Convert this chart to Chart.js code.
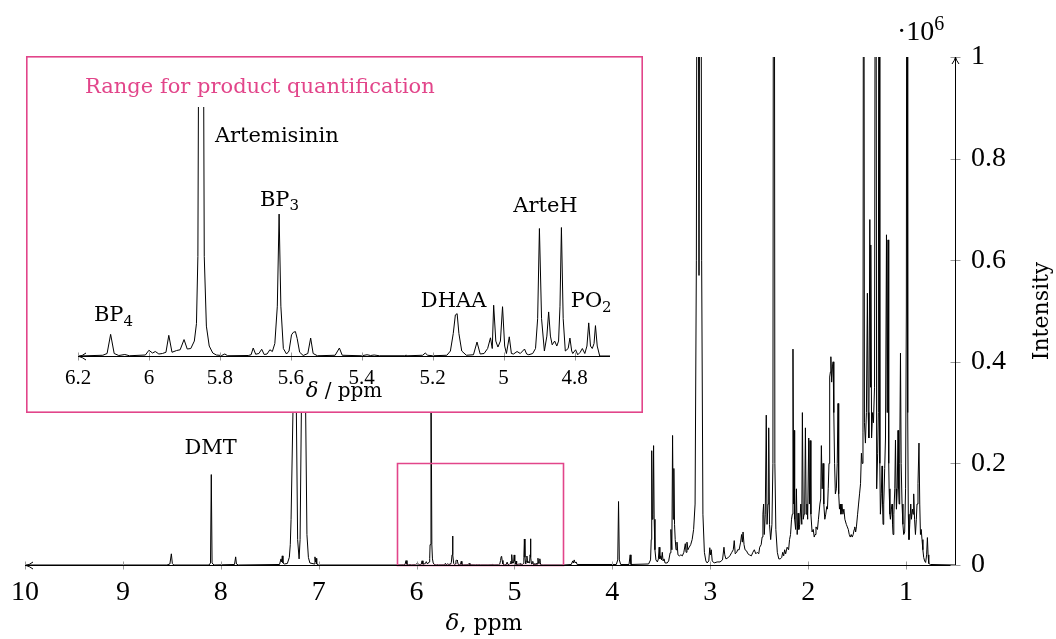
<!DOCTYPE html>
<html>
<head>
<meta charset="utf-8">
<title>1H NMR spectrum</title>
<script src="https://cdn.jsdelivr.net/npm/chart.js@4.4.1/dist/chart.umd.min.js"></script>
<style>
  html, body { margin: 0; padding: 0; background: #fff; }
  #wrap { position: relative; width: 1056px; height: 639px; }
  #mainChart { position: absolute; left: 0; top: 0; }
  #insetChart { position: absolute; left: 26px; top: 56px; background: #fff; }
</style>
</head>
<body>
<div id="wrap">
  <canvas id="mainChart" width="1056" height="639"></canvas>
  <canvas id="insetChart" width="617" height="357"></canvas>
</div>
<script>
// spectrum points [ppm, intensity / 10^6]
const aromaticRegion = [
  [10, 0], [8.55, 0], [8.52, 0.002], [8.505, 0.022], [8.495, 0.003], [8.48, 0],
  [8.12, 0], [8.105, 0.004], [8.097, 0.178], [8.089, 0.004], [8.07, 0],
  [7.86, 0.001], [7.848, 0.016], [7.84, 0.002], [7.82, 0],
  [7.40, 0.001], [7.385, 0.012], [7.378, 0.006], [7.372, 0.018], [7.365, 0.004], [7.35, 0.002],
  [7.32, 0.003], [7.30, 0.015], [7.29, 0.04], [7.282, 0.09], [7.263, 0.3], [7.245, 1.4], [7.228, 0.3],
  [7.215, 0.05], [7.20, 0.012], [7.19, 0.05], [7.177, 0.3], [7.155, 1.3], [7.133, 0.3], [7.12, 0.06],
  [7.105, 0.015], [7.09, 0.004],
  [7.045, 0.002], [7.038, 0.016], [7.032, 0.006], [7.027, 0.013], [7.02, 0.002], [7.0, 0],
  [6.2, 0]
];

const productRegion = [
  [6.2, 0], [6.13, 0.0003], [6.118, 0.001], [6.108, 0.0087], [6.098, 0.001], [6.085, 0.0002],
  [6.068, 0.0006], [6.055, 0.0001],
  [6.01, 0.0004], [6.0, 0.0023], [5.99, 0.0012], [5.982, 0.0018], [5.972, 0.0008], [5.962, 0.001],
  [5.952, 0.0015], [5.944, 0.0083], [5.935, 0.0015], [5.922, 0.0022], [5.912, 0.0025], [5.901, 0.0066],
  [5.892, 0.0028], [5.882, 0.003], [5.872, 0.006], [5.866, 0.013], [5.862, 0.04], [5.853, 0.4],
  [5.844, 0.04], [5.838, 0.012], [5.83, 0.004], [5.82, 0.0012], [5.81, 0.0004], [5.795, 0.0002],
  [5.786, 0.0008], [5.778, 0.0001],
  [5.72, 0.0002], [5.712, 0.0005], [5.706, 0.0032], [5.699, 0.0007], [5.69, 0.001], [5.682, 0.0027],
  [5.675, 0.0006], [5.667, 0.0008], [5.659, 0.0025], [5.652, 0.0018], [5.645, 0.005], [5.638, 0.02],
  [5.633, 0.057], [5.628, 0.02], [5.621, 0.003], [5.612, 0.0008], [5.605, 0.002], [5.598, 0.0085],
  [5.593, 0.0095], [5.587, 0.0098], [5.582, 0.007], [5.575, 0.0015], [5.565, 0.0002], [5.552, 0.001],
  [5.544, 0.0072], [5.537, 0.001], [5.525, 0.0001],
  [5.475, 0.0003], [5.463, 0.0032], [5.455, 0.0003], [5.4, 0.0001], [5.385, 0.0005], [5.375, 0.0002],
  [5.365, 0.0004], [5.35, 0.0001], [5.28, 0.0001], [5.275, 0.0003], [5.27, 0.0001], [5.228, 0.0003],
  [5.221, 0.0012], [5.214, 0.0003], [5.2, 0.0001],
  [5.16, 0.0003], [5.15, 0.002], [5.142, 0.009], [5.136, 0.0165], [5.131, 0.017], [5.126, 0.009],
  [5.118, 0.002], [5.105, 0.0003],
  [5.085, 0.0005], [5.075, 0.0056], [5.066, 0.0008], [5.055, 0.001], [5.045, 0.003], [5.037, 0.0073],
  [5.032, 0.003], [5.028, 0.0204], [5.022, 0.006], [5.016, 0.0036], [5.009, 0.006], [5.003, 0.0198],
  [4.997, 0.004], [4.992, 0.001], [4.984, 0.0077], [4.978, 0.001], [4.972, 0.0008], [4.962, 0.0018],
  [4.953, 0.001], [4.941, 0.0028], [4.935, 0.0008], [4.929, 0.0005], [4.918, 0.001], [4.91, 0.003],
  [4.904, 0.015], [4.899, 0.0512], [4.893, 0.015], [4.885, 0.002], [4.878, 0.008], [4.873, 0.0177],
  [4.868, 0.008], [4.863, 0.0045], [4.856, 0.006], [4.85, 0.004], [4.845, 0.006], [4.841, 0.02],
  [4.837, 0.0516], [4.832, 0.015], [4.826, 0.002], [4.818, 0.003], [4.813, 0.0072], [4.808, 0.002],
  [4.805, 0.001], [4.797, 0.0025], [4.791, 0.0005], [4.784, 0.0015], [4.778, 0.003], [4.771, 0.001],
  [4.765, 0.004], [4.76, 0.0133], [4.755, 0.004], [4.75, 0.003], [4.745, 0.005], [4.741, 0.0122],
  [4.736, 0.004], [4.729, 0], [4.70, 0], [4.5, 0]
];

const aliphaticRegion = [
  [4.5, 0], [4.42, 0.001], [4.405, 0.008], [4.398, 0.004], [4.39, 0.01], [4.38, 0.004], [4.37, 0.006],
  [4.36, 0.001], [4.3, 0.001],
  [3.96, 0.001], [3.945, 0.01], [3.937, 0.125], [3.929, 0.01], [3.915, 0.001],
  [3.83, 0.001], [3.818, 0.02], [3.81, 0.001],
  [3.63, 0.002], [3.61, 0.01], [3.603, 0.05], [3.598, 0.225], [3.592, 0.09], [3.585, 0.1], [3.579, 0.235],
  [3.573, 0.09], [3.565, 0.03], [3.555, 0.01], [3.54, 0.006],
  [3.53, 0.012], [3.522, 0.035], [3.515, 0.012], [3.505, 0.018], [3.498, 0.01], [3.49, 0.025],
  [3.482, 0.008], [3.472, 0.012], [3.462, 0.004], [3.44, 0.004],
  [3.425, 0.008], [3.41, 0.024], [3.402, 0.07], [3.392, 0.03], [3.385, 0.255], [3.378, 0.09],
  [3.372, 0.19], [3.365, 0.08], [3.358, 0.05], [3.35, 0.03], [3.34, 0.045], [3.33, 0.02], [3.315, 0.018],
  [3.30, 0.02], [3.285, 0.018], [3.27, 0.025], [3.255, 0.042], [3.247, 0.025], [3.238, 0.045],
  [3.228, 0.03], [3.215, 0.035], [3.20, 0.04], [3.185, 0.05], [3.17, 0.07], [3.155, 0.12], [3.142, 0.6],
  [3.13, 2.0], [3.115, 0.57], [3.10, 2.0], [3.088, 0.6], [3.075, 0.1], [3.06, 0.025], [3.045, 0.008],
  [3.032, 0.004], [3.015, 0.008], [3.005, 0.034], [2.998, 0.02], [2.99, 0.03], [2.98, 0.008],
  [2.96, 0.004], [2.93, 0.006], [2.9, 0.006],
  [2.875, 0.01], [2.86, 0.035], [2.852, 0.02], [2.84, 0.012], [2.82, 0.014], [2.80, 0.018], [2.78, 0.025],
  [2.765, 0.03], [2.755, 0.048], [2.745, 0.022], [2.73, 0.025], [2.72, 0.03], [2.705, 0.03], [2.69, 0.045],
  [2.68, 0.06], [2.672, 0.045], [2.665, 0.065], [2.655, 0.04], [2.645, 0.03], [2.63, 0.028], [2.615, 0.022],
  [2.60, 0.02], [2.58, 0.018], [2.565, 0.025], [2.55, 0.03], [2.535, 0.022], [2.52, 0.025], [2.505, 0.022],
  [2.495, 0.035], [2.48, 0.04], [2.47, 0.055], [2.462, 0.1], [2.455, 0.12], [2.448, 0.06], [2.438, 0.1],
  [2.428, 0.295], [2.42, 0.08], [2.41, 0.12], [2.403, 0.27], [2.395, 0.08], [2.383, 0.05], [2.37, 0.08],
  [2.36, 0.2], [2.35, 2.5], [2.34, 0.2], [2.33, 0.07], [2.315, 0.025], [2.30, 0.012], [2.285, 0.012],
  [2.27, 0.015], [2.26, 0.025], [2.25, 0.018], [2.24, 0.03], [2.23, 0.022], [2.215, 0.035], [2.2, 0.03],
  [2.19, 0.05], [2.18, 0.06], [2.17, 0.09], [2.162, 0.1], [2.155, 0.425], [2.148, 0.12], [2.144, 0.265],
  [2.138, 0.09], [2.128, 0.07], [2.12, 0.15], [2.112, 0.06], [2.103, 0.102], [2.095, 0.07], [2.086, 0.08],
  [2.075, 0.12], [2.065, 0.08], [2.059, 0.3], [2.05, 0.09], [2.042, 0.1], [2.035, 0.12], [2.028, 0.27],
  [2.02, 0.1], [2.012, 0.12], [2.005, 0.09], [1.994, 0.25], [1.987, 0.12], [1.98, 0.245], [1.972, 0.1],
  [1.96, 0.065], [1.948, 0.07], [1.938, 0.055], [1.93, 0.06], [1.92, 0.075], [1.905, 0.07], [1.895, 0.09],
  [1.88, 0.12], [1.872, 0.13], [1.865, 0.235], [1.857, 0.15], [1.848, 0.2], [1.84, 0.12], [1.83, 0.09],
  [1.82, 0.1], [1.81, 0.115], [1.803, 0.11], [1.795, 0.15], [1.787, 0.2], [1.78, 0.37], [1.773, 0.38],
  [1.768, 0.41], [1.76, 0.36], [1.752, 0.39], [1.745, 0.40], [1.738, 0.3], [1.73, 0.2], [1.722, 0.14],
  [1.712, 0.15], [1.703, 0.2], [1.695, 0.318], [1.688, 0.14], [1.68, 0.11], [1.672, 0.12], [1.665, 0.1],
  [1.655, 0.12], [1.645, 0.1], [1.635, 0.11], [1.625, 0.09], [1.61, 0.08], [1.60, 0.075], [1.59, 0.07],
  [1.58, 0.06], [1.57, 0.055], [1.56, 0.06], [1.55, 0.055], [1.54, 0.06], [1.53, 0.07], [1.524, 0.075],
  [1.515, 0.065], [1.507, 0.075], [1.495, 0.1], [1.485, 0.12], [1.475, 0.14], [1.465, 0.16], [1.456, 0.22],
  [1.448, 0.2], [1.44, 0.26], [1.433, 2.0], [1.425, 0.28], [1.415, 0.24], [1.405, 0.3], [1.395, 0.535],
  [1.387, 0.3], [1.38, 0.25], [1.37, 0.68], [1.363, 0.35], [1.36, 0.63], [1.352, 0.25], [1.342, 0.3],
  [1.333, 0.28], [1.322, 0.35], [1.31, 2.0], [1.30, 0.15], [1.29, 0.22], [1.283, 0.3], [1.276, 2.0],
  [1.268, 0.2], [1.262, 0.1], [1.253, 0.14], [1.245, 0.195], [1.24, 0.12], [1.235, 0.08], [1.228, 0.12],
  [1.218, 0.19], [1.21, 0.25], [1.2, 0.65], [1.192, 0.3], [1.184, 0.64], [1.177, 0.2], [1.173, 0.15],
  [1.165, 0.1], [1.16, 0.09], [1.15, 0.11], [1.143, 0.12], [1.138, 0.08], [1.133, 0.06], [1.125, 0.1],
  [1.115, 0.15], [1.108, 0.246], [1.102, 0.15], [1.098, 0.11], [1.09, 0.15], [1.082, 0.265], [1.076, 0.15],
  [1.071, 0.12], [1.065, 0.2], [1.057, 0.417], [1.05, 0.2], [1.041, 0.12], [1.032, 0.08], [1.024, 0.06],
  [1.014, 0.065], [1.005, 0.15], [0.997, 0.5], [0.99, 2.0], [0.983, 0.3], [0.977, 0.1], [0.97, 0.05],
  [0.962, 0.08], [0.952, 0.12], [0.945, 0.09], [0.935, 0.11], [0.928, 0.1], [0.922, 0.14], [0.913, 0.09],
  [0.904, 0.06], [0.895, 0.09], [0.888, 0.12], [0.878, 0.16], [0.868, 0.24], [0.86, 0.12], [0.853, 0.06],
  [0.845, 0.07], [0.837, 0.05], [0.828, 0.03], [0.82, 0.015], [0.81, 0.008], [0.8, 0.005], [0.79, 0.02],
  [0.782, 0.054], [0.775, 0.02], [0.768, 0.003], [0.75, 0.001], [0.5, 0]
];

const mainXTicks = [10, 9, 8, 7, 6, 5, 4, 3, 2, 1];
const mainYTicks = [0, 0.2, 0.4, 0.6, 0.8, 1];
const insetXTicks = [6.2, 6, 5.8, 5.6, 5.4, 5.2, 5, 4.8];

// region of the main plot that is blown up in the inset
const zoomWindowPpm = [6.2, 4.5];
const zoomWindowIntensity = 0.2;

const PINK = '#e2458a';
const TICK_GREY = '#9a9a9a';
const SERIF = '"DejaVu Serif", serif';
const NUM_FONT = '"Liberation Serif", serif';

const spectrum = aromaticRegion.concat(productRegion, aliphaticRegion)
  .map(p => ({ x: p[0], y: p[1] }));

Chart.defaults.font.family = SERIF;
Chart.defaults.color = '#000';

// text with a lowered index, e.g. BP4
function drawIndexed(ctx, base, sub, x, y, size, align) {
  ctx.font = size + 'px ' + SERIF;
  const w1 = ctx.measureText(base).width;
  const subSize = Math.round(size * 0.72);
  ctx.font = subSize + 'px ' + SERIF;
  const w2 = ctx.measureText(sub).width;
  const x0 = align === 'center' ? x - (w1 + w2) / 2 : x;
  ctx.textAlign = 'left';
  ctx.textBaseline = 'alphabetic';
  ctx.font = size + 'px ' + SERIF;
  ctx.fillText(base, x0, y);
  ctx.font = subSize + 'px ' + SERIF;
  ctx.fillText(sub, x0 + w1, y + size * 0.22);
}

function drawAxisX(ctx, scale, area, arrowAtLeft) {
  const yb = Math.round(area.bottom) + 0.5;
  ctx.strokeStyle = TICK_GREY;
  ctx.lineWidth = 1;
  scale.ticks.forEach(t => {
    const px = Math.round(scale.getPixelForValue(t.value)) + 0.5;
    ctx.beginPath();
    ctx.moveTo(px, yb - 4);
    ctx.lineTo(px, yb + 4);
    ctx.stroke();
  });
  ctx.strokeStyle = '#000';
  ctx.beginPath();
  ctx.moveTo(area.left, yb);
  ctx.lineTo(area.right, yb);
  ctx.stroke();
  if (arrowAtLeft) {
    const tip = area.left + 1;
    ctx.beginPath();
    ctx.moveTo(tip + 7, yb - 3.5);
    ctx.quadraticCurveTo(tip + 3, yb - 0.5, tip, yb);
    ctx.quadraticCurveTo(tip + 3, yb + 0.5, tip + 7, yb + 3.5);
    ctx.stroke();
  }
}

const mainDecor = {
  id: 'mainDecor',
  afterDraw(chart) {
    const { ctx, chartArea: a, scales: { x, y } } = chart;
    ctx.save();

    // zoom window
    const x1 = Math.round(x.getPixelForValue(zoomWindowPpm[0])) + 0.5;
    const x2 = Math.round(x.getPixelForValue(zoomWindowPpm[1])) + 0.5;
    const y1 = Math.round(y.getPixelForValue(zoomWindowIntensity)) + 0.5;
    const y0 = Math.round(y.getPixelForValue(0)) + 0.5;
    ctx.strokeStyle = PINK;
    ctx.lineWidth = 1.6;
    ctx.beginPath();
    ctx.rect(x1, y1, x2 - x1, y0 - y1);
    ctx.stroke();
    ctx.lineWidth = 1;

    drawAxisX(ctx, x, a, true);

    // right-hand intensity axis with arrow on top
    const xr = Math.round(a.right) + 0.5;
    ctx.strokeStyle = TICK_GREY;
    y.ticks.forEach(t => {
      const py = Math.round(y.getPixelForValue(t.value)) + 0.5;
      ctx.beginPath();
      ctx.moveTo(xr - 5, py);
      ctx.lineTo(xr + 5, py);
      ctx.stroke();
    });
    ctx.strokeStyle = '#000';
    ctx.beginPath();
    ctx.moveTo(xr, a.bottom);
    ctx.lineTo(xr, a.top);
    ctx.stroke();
    ctx.beginPath();
    ctx.moveTo(xr - 3.5, a.top + 7);
    ctx.quadraticCurveTo(xr - 0.5, a.top + 3, xr, a.top);
    ctx.quadraticCurveTo(xr + 0.5, a.top + 3, xr + 3.5, a.top + 7);
    ctx.stroke();

    ctx.fillStyle = '#000';
    // multiplier
    ctx.textBaseline = 'alphabetic';
    ctx.textAlign = 'left';
    ctx.font = '28px ' + NUM_FONT;
    ctx.fillText('·10', a.right - 58, a.top - 17);
    const w = ctx.measureText('·10').width;
    ctx.font = '20px ' + NUM_FONT;
    ctx.fillText('6', a.right - 58 + w, a.top - 27);

    // axis titles
    ctx.save();
    ctx.translate(a.right + 87, (a.top + a.bottom) / 2);
    ctx.rotate(-Math.PI / 2);
    ctx.textAlign = 'center';
    ctx.textBaseline = 'middle';
    ctx.font = '22px ' + SERIF;
    ctx.fillText('Intensity', 0, 0);
    ctx.restore();

    ctx.font = 'italic 23px ' + SERIF;
    const dW = ctx.measureText('δ').width;
    ctx.font = '22px ' + SERIF;
    const rW = ctx.measureText(', ppm').width;
    const cx = (a.left + a.right) / 2 - 6;
    const xs = cx - (dW + rW) / 2;
    ctx.textAlign = 'left';
    ctx.font = 'italic 23px ' + SERIF;
    ctx.fillText('δ', xs, a.bottom + 65);
    ctx.font = '22px ' + SERIF;
    ctx.fillText(', ppm', xs + dW, a.bottom + 65);

    // peak label
    ctx.textAlign = 'center';
    ctx.font = '21px ' + SERIF;
    ctx.fillText('DMT', x.getPixelForValue(8.104), y.getPixelForValue(0.2185));
    ctx.restore();
  }
};

new Chart(document.getElementById('mainChart'), {
  type: 'line',
  data: {
    datasets: [{
      data: spectrum,
      borderColor: '#000',
      borderWidth: 1,
      pointRadius: 0,
      tension: 0,
      fill: false
    }]
  },
  options: {
    responsive: false,
    animation: false,
    layout: { padding: { left: 25, top: 57, right: 0, bottom: 0 } },
    plugins: { legend: { display: false }, tooltip: { enabled: false } },
    scales: {
      x: {
        type: 'linear',
        reverse: true,
        min: 0.5,
        max: 10,
        afterBuildTicks: s => { s.ticks = mainXTicks.map(v => ({ value: v })); },
        afterFit: s => { s.height = 74; },
        grid: { display: false, drawTicks: false },
        border: { display: false },
        ticks: {
          autoSkip: false,
          maxRotation: 0,
          padding: 11,
          color: '#000',
          font: { family: NUM_FONT, size: 28 },
          callback: v => String(v)
        }
      },
      y: {
        position: 'right',
        min: 0,
        max: 1,
        afterBuildTicks: s => { s.ticks = mainYTicks.map(v => ({ value: v })); },
        afterFit: s => { s.width = 101; },
        grid: { display: false, drawTicks: false },
        border: { display: false },
        ticks: {
          padding: 16,
          color: '#000',
          font: { family: NUM_FONT, size: 28 },
          callback: v => String(v)
        }
      }
    }
  },
  plugins: [mainDecor]
});

// inset: zoom on the product quantification window
const insetPeakLabels = [
  { base: 'Artemisinin', sub: '', ppm: 5.814, intensity: 0.086, align: 'left' },
  { base: 'BP', sub: '3', ppm: 5.632, intensity: 0.0603, align: 'center' },
  { base: 'BP', sub: '4', ppm: 6.10, intensity: 0.014, align: 'center' },
  { base: 'DHAA', sub: '', ppm: 5.141, intensity: 0.0197, align: 'center' },
  { base: 'ArteH', sub: '', ppm: 4.882, intensity: 0.0579, align: 'center' },
  { base: 'PO', sub: '2', ppm: 4.753, intensity: 0.0197, align: 'center' }
];

const insetDecor = {
  id: 'insetDecor',
  afterDraw(chart) {
    const { ctx, chartArea: a, scales: { x, y }, width, height } = chart;
    ctx.save();
    ctx.strokeStyle = PINK;
    ctx.lineWidth = 1.6;
    ctx.strokeRect(0.8, 0.8, width - 1.6, height - 1.6);
    ctx.lineWidth = 1;

    drawAxisX(ctx, x, a, true);

    ctx.fillStyle = PINK;
    ctx.textAlign = 'left';
    ctx.textBaseline = 'alphabetic';
    ctx.font = '21px ' + SERIF;
    ctx.fillText('Range for product quantification', 59, 37);

    ctx.fillStyle = '#000';
    insetPeakLabels.forEach(l => {
      drawIndexed(ctx, l.base, l.sub, x.getPixelForValue(l.ppm), y.getPixelForValue(l.intensity), 21, l.align);
    });

    ctx.font = 'italic 21px ' + SERIF;
    const dW = ctx.measureText('δ').width;
    ctx.font = '20px ' + SERIF;
    const rW = ctx.measureText(' / ppm').width;
    const xs = (a.left + a.right) / 2 - (dW + rW) / 2;
    ctx.font = 'italic 21px ' + SERIF;
    ctx.fillText('δ', xs, a.bottom + 41);
    ctx.font = '20px ' + SERIF;
    ctx.fillText(' / ppm', xs + dW, a.bottom + 41);
    ctx.restore();
  }
};

new Chart(document.getElementById('insetChart'), {
  type: 'line',
  data: {
    datasets: [{
      data: spectrum,
      borderColor: '#000',
      borderWidth: 1,
      pointRadius: 0,
      tension: 0,
      fill: false
    }]
  },
  options: {
    responsive: false,
    animation: false,
    layout: { padding: { left: 52, top: 51, right: 33, bottom: 0 } },
    plugins: { legend: { display: false }, tooltip: { enabled: false } },
    scales: {
      x: {
        type: 'linear',
        reverse: true,
        min: 4.7,
        max: 6.2,
        afterBuildTicks: s => { s.ticks = insetXTicks.map(v => ({ value: v })); },
        afterFit: s => { s.height = 57; },
        grid: { display: false, drawTicks: false },
        border: { display: false },
        ticks: {
          autoSkip: false,
          maxRotation: 0,
          padding: 10,
          color: '#000',
          font: { family: NUM_FONT, size: 21 },
          callback: v => String(v)
        }
      },
      y: { display: false, min: 0, max: 0.1 }
    }
  },
  plugins: [insetDecor]
});
</script>
</body>
</html>
